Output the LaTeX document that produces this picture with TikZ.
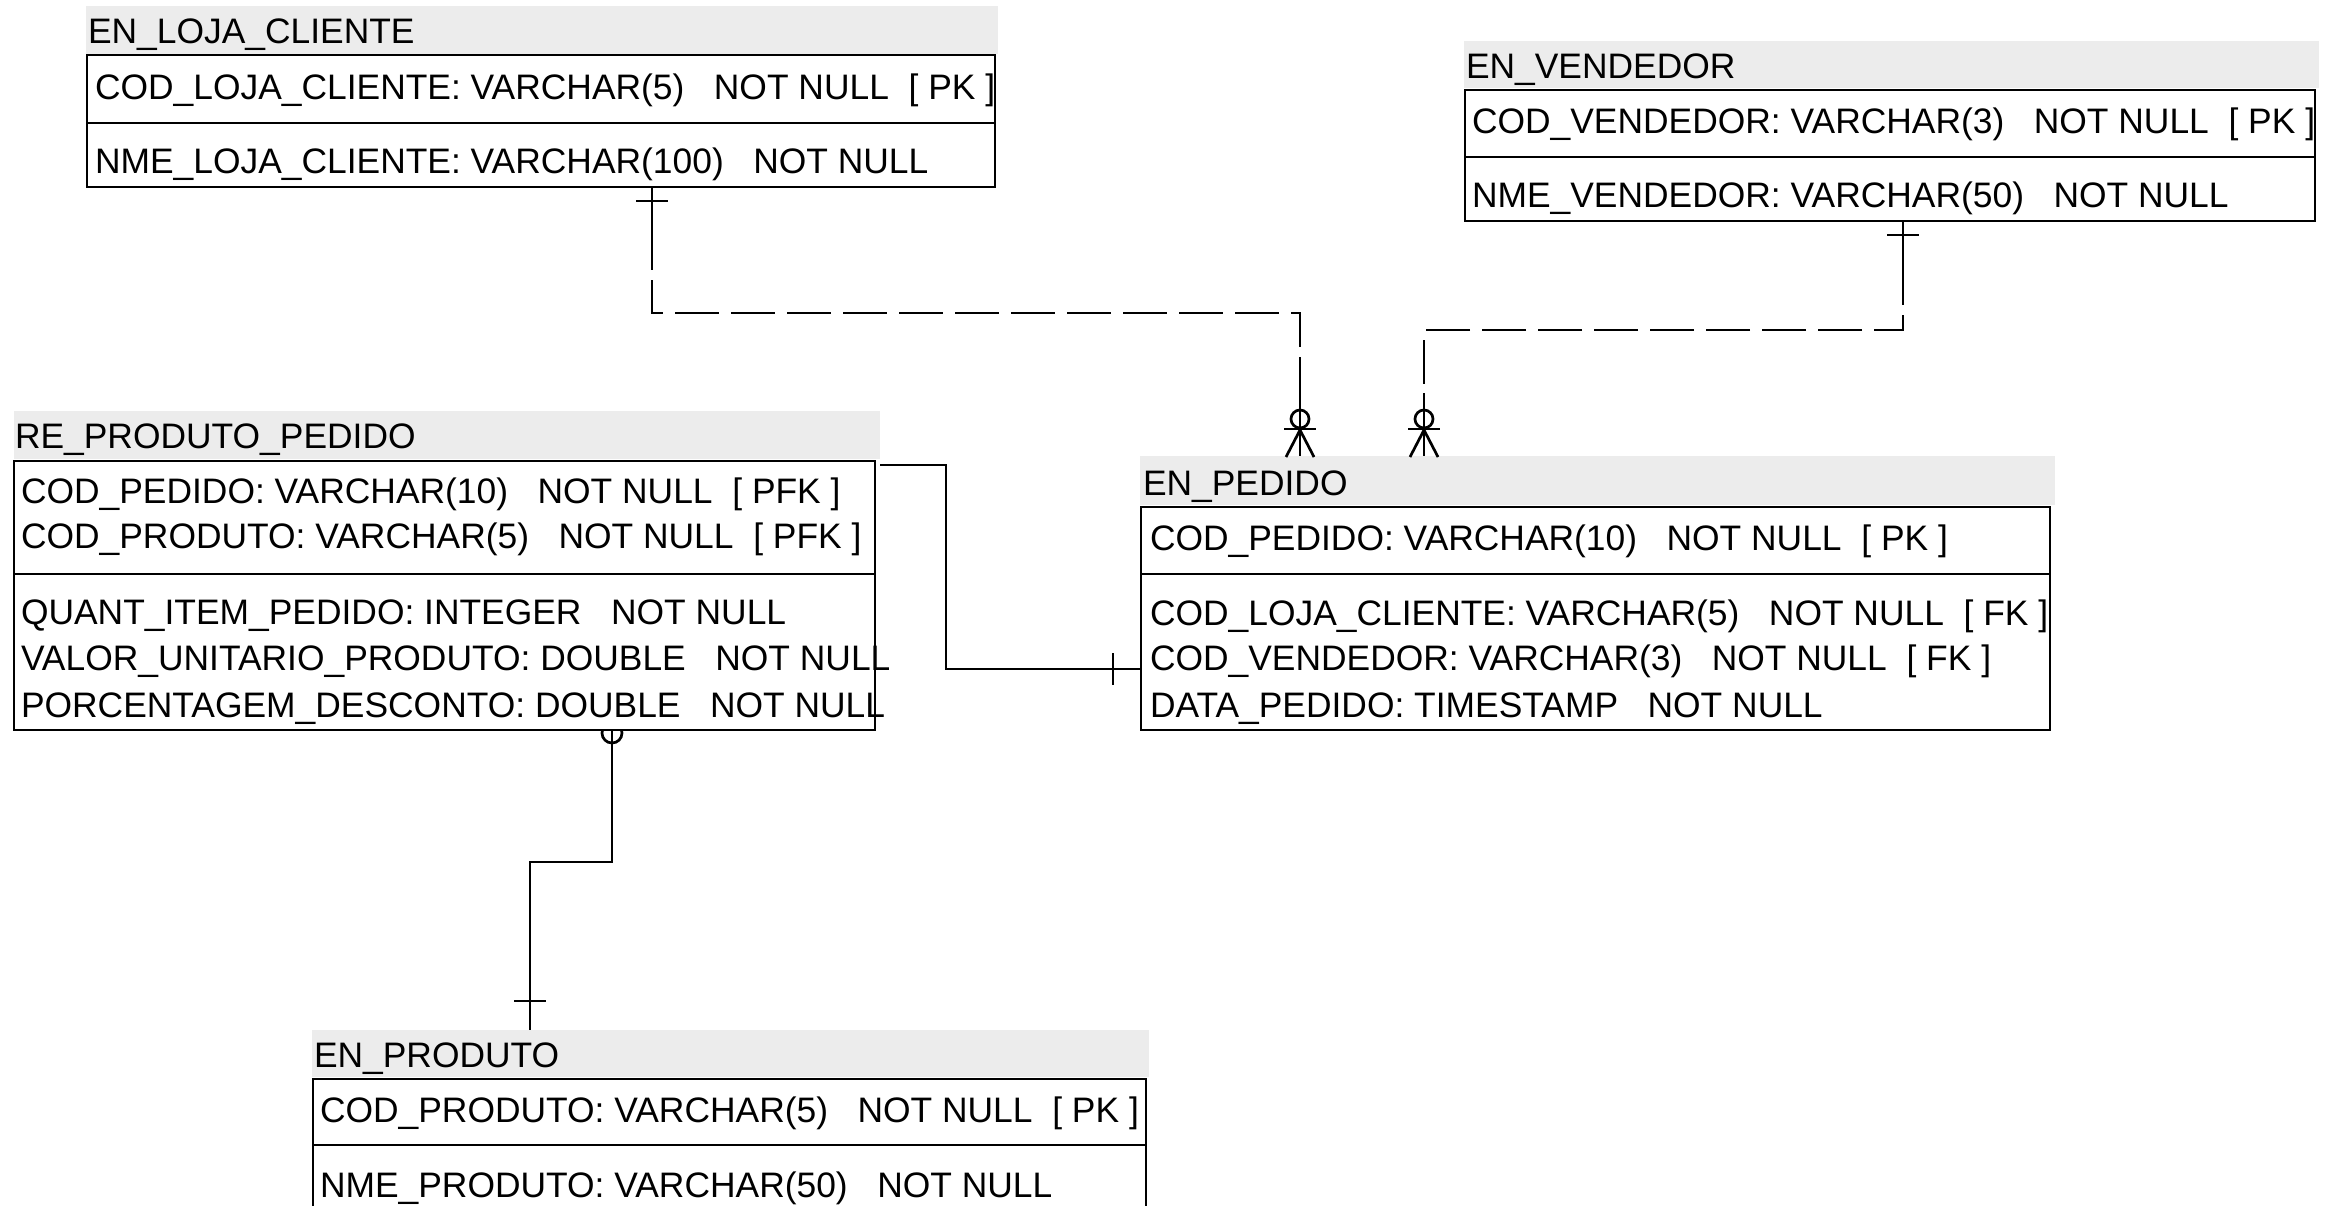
\documentclass[tikz,border=0pt]{standalone}
\usepackage{fontspec}
\setmainfont{Liberation Sans}
\definecolor{hdrgray}{RGB}{236,236,236}
\begin{document}
\begin{tikzpicture}[x=1pt,y=-1pt,
  hdr/.style={fill=hdrgray, draw=none, anchor=north west, inner sep=0pt, outer sep=0pt},
  tbl/.style={fill=white, draw=black, line width=2.8pt, anchor=north west, inner sep=0pt, outer sep=0pt},
  txt/.style={anchor=base west, inner sep=0pt, outer sep=0pt, font=\fontsize{35.4}{42}\selectfont},
  divl/.style={line width=2.8pt},
  conn/.style={line width=2.7pt},
  dconn/.style={line width=2.7pt, dash pattern=on 44pt off 12pt},
]
\useasboundingbox (0,0) rectangle (2335,1205);

% ---------- connector points ----------
\coordinate (a1) at (652,270);
\coordinate (a2) at (652,280);
\coordinate (a3) at (652,313);
\coordinate (a4) at (1300,313);
\coordinate (a5) at (1300,347);
\coordinate (a6) at (1300,357);
\coordinate (b1) at (1903,305);
\coordinate (b2) at (1903,315);
\coordinate (b3) at (1903,330);
\coordinate (b4) at (1424,330);
\coordinate (b5) at (1424,384);
\coordinate (b6) at (1424,393);
\coordinate (c1) at (946,465);
\coordinate (c2) at (946,669);
\coordinate (d1) at (612,862);
\coordinate (d2) at (530,862);

% ---------- header bands ----------
\node[hdr, minimum width=912, minimum height=48] (lojaH) at (86,6) {};
\node[hdr, minimum width=855, minimum height=47] (vendH) at (1464,41) {};
\node[hdr, minimum width=866, minimum height=48] (rppH) at (14,411) {};
\node[hdr, minimum width=915, minimum height=49] (pedH) at (1140,456) {};
\node[hdr, minimum width=837, minimum height=47] (prodH) at (312,1030) {};

% ---------- connectors ----------
% EN_LOJA_CLIENTE -> EN_PEDIDO
\draw[conn] (a1 |- 0,187) -- (a1);
\draw[conn] (636,201) -- (668,201);
\draw[dconn] (a2) -- (a3) -- (a4) -- (a5);
\draw[conn] (a6) -- (a6 |- pedH.north);
\draw[conn] (1300,419) circle (9);
\draw[conn] (1284,429) -- (1316,429);
\draw[conn] (1286,457) -- (1300,430) -- (1314,457);
% EN_VENDEDOR -> EN_PEDIDO
\draw[conn] (b1 |- 0,221) -- (b1);
\draw[conn] (1887,235) -- (1919,235);
\draw[dconn] (b2) -- (b3) -- (b4) -- (b5);
\draw[conn] (b6) -- (b6 |- pedH.north);
\draw[conn] (1424,419) circle (9);
\draw[conn] (1408,429) -- (1440,429);
\draw[conn] (1410,457) -- (1424,430) -- (1438,457);
% RE_PRODUTO_PEDIDO -> EN_PEDIDO
\draw[conn] (rppH.east |- c1) -- (c1) -- (c2) -- (1141,669);
\draw[conn] (1113,653) -- (1113,685);
% RE_PRODUTO_PEDIDO -> EN_PRODUTO
\draw[conn] (612,733) circle (10);
\draw[conn] (612,730) -- (d1) -- (d2) -- (d2 |- prodH.north);
\draw[conn] (514,1001) -- (546,1001);

% ---------- tables ----------
\node[tbl, minimum width=908, minimum height=132] (loja) at (87,55) {};
\draw[divl] (87,123) -- (995,123);
\node[tbl, minimum width=850, minimum height=131] (vend) at (1465,90) {};
\draw[divl] (1465,157) -- (2315,157);
\node[tbl, minimum width=861, minimum height=269] (rpp) at (14,461) {};
\draw[divl] (14,574) -- (875,574);
\node[tbl, minimum width=909, minimum height=223] (ped) at (1141,507) {};
\draw[divl] (1141,574) -- (2050,574);
\node[tbl, minimum width=833, minimum height=160] (prod) at (313,1079) {};
\draw[divl] (313,1145) -- (1146,1145);

% ---------- texts ----------
\node[txt] (t1) at (88,43) {EN\_LOJA\_CLIENTE};
\node[txt] (t2) at (95,99) {COD\_LOJA\_CLIENTE: VARCHAR(5)~~~NOT NULL~~[ PK ]};
\node[txt] (t3) at (95,173) {NME\_LOJA\_CLIENTE: VARCHAR(100)~~~NOT NULL};

\node[txt] (t4) at (1466,78) {EN\_VENDEDOR};
\node[txt] (t5) at (1472,133) {COD\_VENDEDOR: VARCHAR(3)~~~NOT NULL~~[ PK ]};
\node[txt] (t6) at (1472,207) {NME\_VENDEDOR: VARCHAR(50)~~~NOT NULL};

\node[txt] (t7) at (15,448) {RE\_PRODUTO\_PEDIDO};
\node[txt] (t8) at (21,503) {COD\_PEDIDO: VARCHAR(10)~~~NOT NULL~~[ PFK ]};
\node[txt] (t9) at (21,548) {COD\_PRODUTO: VARCHAR(5)~~~NOT NULL~~[ PFK ]};
\node[txt] (t10) at (21,624) {QUANT\_ITEM\_PEDIDO: INTEGER~~~NOT NULL};
\node[txt] (t11) at (21,670) {VALOR\_UNITARIO\_PRODUTO: DOUBLE~~~NOT NULL};
\node[txt] (t12) at (21,717) {PORCENTAGEM\_DESCONTO: DOUBLE~~~NOT NULL};

\node[txt] (t13) at (1143,495) {EN\_PEDIDO};
\node[txt] (t14) at (1150,550) {COD\_PEDIDO: VARCHAR(10)~~~NOT NULL~~[ PK ]};
\node[txt] (t15) at (1150,625) {COD\_LOJA\_CLIENTE: VARCHAR(5)~~~NOT NULL~~[ FK ]};
\node[txt] (t16) at (1150,670) {COD\_VENDEDOR: VARCHAR(3)~~~NOT NULL~~[ FK ]};
\node[txt] (t17) at (1150,717) {DATA\_PEDIDO: TIMESTAMP~~~NOT NULL};

\node[txt] (t18) at (314,1067) {EN\_PRODUTO};
\node[txt] (t19) at (320,1122) {COD\_PRODUTO: VARCHAR(5)~~~NOT NULL~~[ PK ]};
\node[txt] (t20) at (320,1197) {NME\_PRODUTO: VARCHAR(50)~~~NOT NULL};
\end{tikzpicture}
\end{document}
